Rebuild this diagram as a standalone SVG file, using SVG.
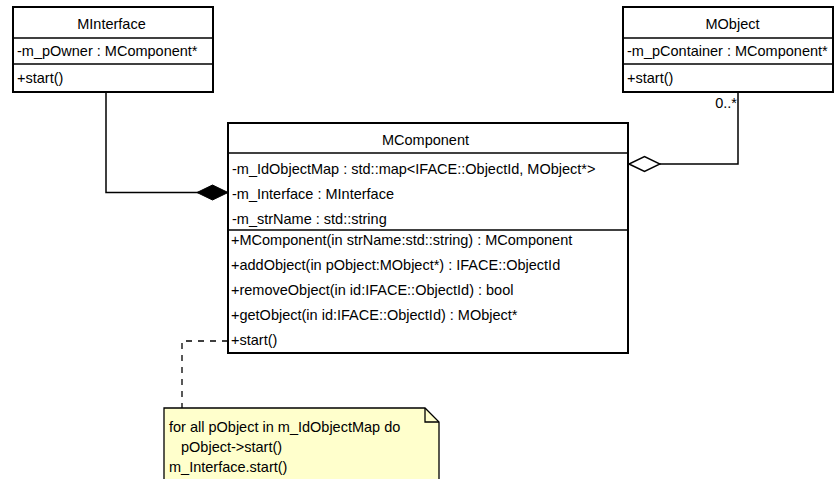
<svg xmlns="http://www.w3.org/2000/svg" width="834" height="479" viewBox="0 0 834 479">
  <style>
    text { font-family: "Liberation Sans", Arial, sans-serif; font-size: 14.5px; fill: #000; }
    .title { text-anchor: middle; }
    .box { fill: #fff; stroke: #000; stroke-width: 2; }
    .div { stroke: #000; stroke-width: 1.5; fill: none; }
    .link { stroke: #000; stroke-width: 1.5; fill: none; }
    .dash { stroke: #000; stroke-width: 1.3; fill: none; stroke-dasharray: 6 6; }
    .note { fill: #ffffcc; stroke: #000; stroke-width: 1.3; }
  </style>
  <defs>
    <marker id="diamondFilled" markerUnits="userSpaceOnUse" markerWidth="34" markerHeight="18" viewBox="-32 -9 34 18" refX="0" refY="0" orient="auto">
      <path d="M0 0 L-15.5 -7.5 L-31 0 L-15.5 7.5 Z" fill="#000" stroke="#000" stroke-width="1"/>
    </marker>
    <marker id="diamondHollow" markerUnits="userSpaceOnUse" markerWidth="34" markerHeight="18" viewBox="-32 -9 34 18" refX="0" refY="0" orient="auto">
      <path d="M0 0 L-15.5 -7.5 L-31 0 L-15.5 7.5 Z" fill="#fff" stroke="#000" stroke-width="1.5"/>
    </marker>
  </defs>

  <rect width="834" height="479" fill="#fff"/>

  <!-- connectors -->
  <g id="connectors">
    <polyline class="link" points="106,92 106,192.5 228,192.5" marker-end="url(#diamondFilled)"/>
    <polyline class="link" points="738,92 738,164 629,164" marker-end="url(#diamondHollow)"/>
    <text x="737" y="108" style="text-anchor:end">0..*</text>
    <polyline class="dash" points="228,341 182,341 182,408"/>
  </g>

  <!-- MInterface class -->
  <g id="MInterface">
    <rect class="box" x="13" y="7" width="200" height="85"/>
    <line class="div" x1="13" y1="38" x2="213" y2="38"/>
    <line class="div" x1="13" y1="64" x2="213" y2="64"/>
    <text class="title" x="111.5" y="28.5">MInterface</text>
    <text x="17" y="55.5">-m_pOwner : MComponent*</text>
    <text x="17" y="82.5">+start()</text>
  </g>

  <!-- MObject class -->
  <g id="MObject">
    <rect class="box" x="623" y="7" width="210" height="85"/>
    <line class="div" x1="623" y1="38" x2="833" y2="38"/>
    <line class="div" x1="623" y1="64" x2="833" y2="64"/>
    <text class="title" x="732.5" y="28.5">MObject</text>
    <text x="627" y="55.5">-m_pContainer : MComponent*</text>
    <text x="627" y="82.5">+start()</text>
  </g>

  <!-- MComponent class -->
  <g id="MComponent">
    <rect class="box" x="228" y="123" width="400" height="230"/>
    <line class="div" x1="228" y1="153" x2="628" y2="153"/>
    <line class="div" x1="228" y1="230" x2="628" y2="230"/>
    <text class="title" x="425.5" y="145">MComponent</text>
    <text x="232" y="174">-m_IdObjectMap : std::map&lt;IFACE::ObjectId, MObject*&gt;</text>
    <text x="232" y="199">-m_Interface : MInterface</text>
    <text x="232" y="224">-m_strName : std::string</text>
    <text x="231" y="245">+MComponent(in strName:std::string) : MComponent</text>
    <text x="231" y="270">+addObject(in pObject:MObject*) : IFACE::ObjectId</text>
    <text x="231" y="295">+removeObject(in id:IFACE::ObjectId) : bool</text>
    <text x="231" y="320">+getObject(in id:IFACE::ObjectId) : MObject*</text>
    <text x="231" y="345">+start()</text>
  </g>

  <!-- note attached to MComponent::start() -->
  <g id="note">
    <path class="note" d="M164 486 L164 408 L425 408 L439 422 L439 486 Z"/>
    <path class="div" style="stroke-width:1.3" d="M425 408 L425 422 L439 422"/>
    <text x="169" y="432">for all pObject in m_IdObjectMap do</text>
    <text x="181" y="452">pObject-&gt;start()</text>
    <text x="169" y="472">m_Interface.start()</text>
  </g>
</svg>
